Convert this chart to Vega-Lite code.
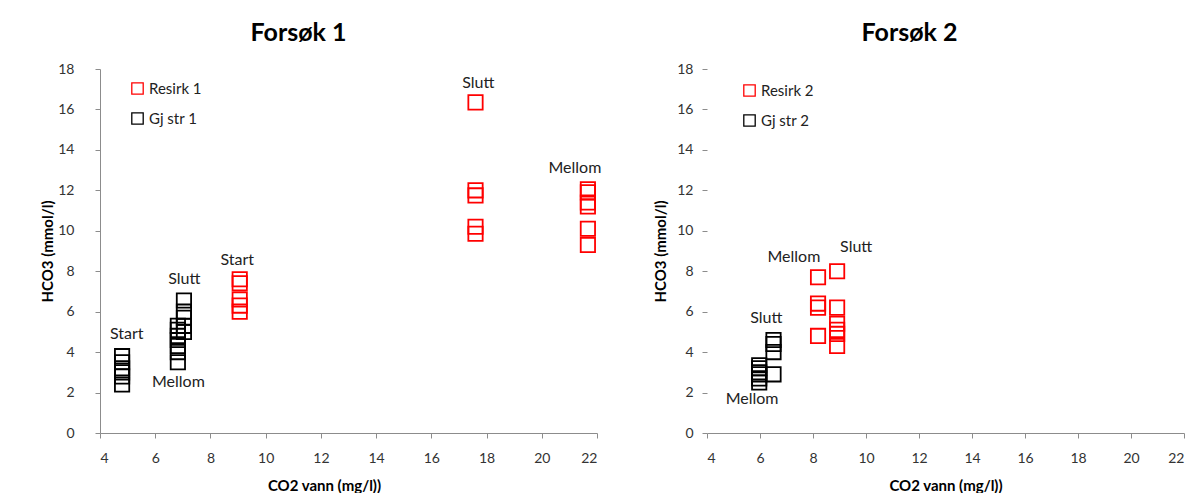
{
  "$schema": "https://vega.github.io/schema/vega-lite/v6.json",
  "background": "white",
  "padding": {"left": 40, "top": 21, "right": 5, "bottom": 0},
  "spacing": 51,
  "config": {
    "font": "Lato",
    "view": {"stroke": null},
    "axis": {"grid": false, "labelFont": "Lato", "labelFontSize": 14, "labelColor": "#333333", "titleFont": "Lato", "titleFontSize": 15, "titleFontWeight": "bold", "titleColor": "#000000", "domainColor": "#8c8c8c", "tickColor": "#8c8c8c", "tickSize": 5},
    "legend": {"orient": "none", "title": null, "labelFont": "Lato", "labelFontSize": 15, "labelColor": "#222222", "symbolType": "square", "symbolSize": 130, "symbolStrokeWidth": 1.3, "rowPadding": 13, "labelOffset": 4},
    "title": {"font": "Lato", "fontSize": 25, "fontWeight": "bold", "color": "#000000", "anchor": "middle"}
  },
  "resolve": {"scale": {"color": "independent"}, "legend": {"color": "independent"}},
  "datasets": {
    "points": [
      {"panel": 1, "series": "Gj str 1", "x": 4.8, "y": 3.8},
      {"panel": 1, "series": "Gj str 1", "x": 4.8, "y": 3.5},
      {"panel": 1, "series": "Gj str 1", "x": 4.8, "y": 3.2},
      {"panel": 1, "series": "Gj str 1", "x": 4.8, "y": 3.0},
      {"panel": 1, "series": "Gj str 1", "x": 4.8, "y": 2.8},
      {"panel": 1, "series": "Gj str 1", "x": 4.8, "y": 2.4},
      {"panel": 1, "series": "Gj str 1", "x": 6.82, "y": 5.3},
      {"panel": 1, "series": "Gj str 1", "x": 6.82, "y": 5.1},
      {"panel": 1, "series": "Gj str 1", "x": 6.82, "y": 4.8},
      {"panel": 1, "series": "Gj str 1", "x": 6.82, "y": 4.6},
      {"panel": 1, "series": "Gj str 1", "x": 6.82, "y": 4.3},
      {"panel": 1, "series": "Gj str 1", "x": 6.82, "y": 4.0},
      {"panel": 1, "series": "Gj str 1", "x": 6.82, "y": 3.5},
      {"panel": 1, "series": "Gj str 1", "x": 7.04, "y": 6.55},
      {"panel": 1, "series": "Gj str 1", "x": 7.04, "y": 6.0},
      {"panel": 1, "series": "Gj str 1", "x": 7.04, "y": 5.7},
      {"panel": 1, "series": "Gj str 1", "x": 7.04, "y": 5.3},
      {"panel": 1, "series": "Gj str 1", "x": 7.04, "y": 5.0},
      {"panel": 1, "series": "Resirk 1", "x": 9.06, "y": 7.6},
      {"panel": 1, "series": "Resirk 1", "x": 9.06, "y": 7.4},
      {"panel": 1, "series": "Resirk 1", "x": 9.06, "y": 6.6},
      {"panel": 1, "series": "Resirk 1", "x": 9.06, "y": 6.3},
      {"panel": 1, "series": "Resirk 1", "x": 9.06, "y": 6.0},
      {"panel": 1, "series": "Resirk 1", "x": 17.6, "y": 16.35},
      {"panel": 1, "series": "Resirk 1", "x": 17.6, "y": 12.0},
      {"panel": 1, "series": "Resirk 1", "x": 17.6, "y": 11.75},
      {"panel": 1, "series": "Resirk 1", "x": 17.6, "y": 10.2},
      {"panel": 1, "series": "Resirk 1", "x": 17.6, "y": 9.85},
      {"panel": 1, "series": "Resirk 1", "x": 21.67, "y": 12.05},
      {"panel": 1, "series": "Resirk 1", "x": 21.67, "y": 11.9},
      {"panel": 1, "series": "Resirk 1", "x": 21.67, "y": 11.4},
      {"panel": 1, "series": "Resirk 1", "x": 21.67, "y": 11.2},
      {"panel": 1, "series": "Resirk 1", "x": 21.67, "y": 10.1},
      {"panel": 1, "series": "Resirk 1", "x": 21.67, "y": 9.3},
      {"panel": 2, "series": "Gj str 2", "x": 5.97, "y": 3.35},
      {"panel": 2, "series": "Gj str 2", "x": 5.97, "y": 3.2},
      {"panel": 2, "series": "Gj str 2", "x": 5.97, "y": 3.0},
      {"panel": 2, "series": "Gj str 2", "x": 5.97, "y": 2.9},
      {"panel": 2, "series": "Gj str 2", "x": 5.97, "y": 2.7},
      {"panel": 2, "series": "Gj str 2", "x": 5.97, "y": 2.5},
      {"panel": 2, "series": "Gj str 2", "x": 6.51, "y": 4.6},
      {"panel": 2, "series": "Gj str 2", "x": 6.51, "y": 4.4},
      {"panel": 2, "series": "Gj str 2", "x": 6.51, "y": 4.0},
      {"panel": 2, "series": "Gj str 2", "x": 6.51, "y": 2.9},
      {"panel": 2, "series": "Resirk 2", "x": 8.19, "y": 7.7},
      {"panel": 2, "series": "Resirk 2", "x": 8.19, "y": 6.4},
      {"panel": 2, "series": "Resirk 2", "x": 8.19, "y": 6.2},
      {"panel": 2, "series": "Resirk 2", "x": 8.19, "y": 4.8},
      {"panel": 2, "series": "Resirk 2", "x": 8.91, "y": 8.0},
      {"panel": 2, "series": "Resirk 2", "x": 8.91, "y": 6.2},
      {"panel": 2, "series": "Resirk 2", "x": 8.91, "y": 5.4},
      {"panel": 2, "series": "Resirk 2", "x": 8.91, "y": 5.1},
      {"panel": 2, "series": "Resirk 2", "x": 8.91, "y": 4.9},
      {"panel": 2, "series": "Resirk 2", "x": 8.91, "y": 4.3}
    ],
    "labels": [
      {"panel": 1, "text": "Start", "x": 4.97, "y": 4.9},
      {"panel": 1, "text": "Mellom", "x": 6.84, "y": 2.5},
      {"panel": 1, "text": "Slutt", "x": 7.05, "y": 7.6},
      {"panel": 1, "text": "Start", "x": 8.97, "y": 8.55},
      {"panel": 1, "text": "Slutt", "x": 17.7, "y": 17.3},
      {"panel": 1, "text": "Mellom", "x": 21.2, "y": 13.1},
      {"panel": 2, "text": "Mellom", "x": 5.7, "y": 1.69},
      {"panel": 2, "text": "Slutt", "x": 6.24, "y": 5.7},
      {"panel": 2, "text": "Mellom", "x": 7.28, "y": 8.68},
      {"panel": 2, "text": "Slutt", "x": 9.63, "y": 9.2}
    ]
  },
  "hconcat": [
    {
      "width": 497,
      "height": 364,
      "title": {"text": "Forsøk 1", "dx": -50, "offset": 16},
      "layer": [
        {
          "data": {"name": "points"},
          "transform": [{"filter": "datum.panel == 1"}],
          "mark": {"type": "point", "shape": "square", "filled": false, "size": 205, "strokeWidth": 1.8, "opacity": 1},
          "encoding": {
            "x": {"field": "x", "type": "quantitative", "scale": {"domain": [4, 22], "nice": false, "zero": false}, "axis": {"title": "CO2 vann (mg/l))", "values": [4, 6, 8, 10, 12, 14, 16, 18, 20, 22], "labelPadding": 13, "titlePadding": 13, "titleX": 224}},
            "y": {"field": "y", "type": "quantitative", "scale": {"domain": [0, 18], "nice": false}, "axis": {"title": "HCO3 (mmol/l)", "values": [0, 2, 4, 6, 8, 10, 12, 14, 16, 18], "labelPadding": 21, "titlePadding": 2}},
            "color": {"field": "series", "type": "nominal", "scale": {"domain": ["Resirk 1", "Gj str 1"], "range": ["#ff0000", "#000000"]}, "legend": {"legendX": 30, "legendY": 12}}
          }
        },
        {
          "data": {"name": "labels"},
          "transform": [{"filter": "datum.panel == 1"}],
          "mark": {"type": "text", "font": "Lato", "fontSize": 16, "color": "#222222", "baseline": "middle", "align": "center"},
          "encoding": {
            "x": {"field": "x", "type": "quantitative"},
            "y": {"field": "y", "type": "quantitative"},
            "text": {"field": "text"}
          }
        }
      ]
    },
    {
      "width": 477,
      "height": 364,
      "title": {"text": "Forsøk 2", "dx": -36, "offset": 16},
      "layer": [
        {
          "data": {"name": "points"},
          "transform": [{"filter": "datum.panel == 2"}],
          "mark": {"type": "point", "shape": "square", "filled": false, "size": 205, "strokeWidth": 1.8, "opacity": 1},
          "encoding": {
            "x": {"field": "x", "type": "quantitative", "scale": {"domain": [4, 22], "nice": false, "zero": false}, "axis": {"title": "CO2 vann (mg/l))", "values": [4, 6, 8, 10, 12, 14, 16, 18, 20, 22], "labelPadding": 13, "titlePadding": 13}},
            "y": {"field": "y", "type": "quantitative", "scale": {"domain": [0, 18], "nice": false}, "axis": {"title": "HCO3 (mmol/l)", "values": [0, 2, 4, 6, 8, 10, 12, 14, 16, 18], "domain": false, "labelPadding": 9, "titlePadding": 8}},
            "color": {"field": "series", "type": "nominal", "scale": {"domain": ["Resirk 2", "Gj str 2"], "range": ["#ff0000", "#000000"]}, "legend": {"legendX": 35, "legendY": 14}}
          }
        },
        {
          "data": {"name": "labels"},
          "transform": [{"filter": "datum.panel == 2"}],
          "mark": {"type": "text", "font": "Lato", "fontSize": 16, "color": "#222222", "baseline": "middle", "align": "center"},
          "encoding": {
            "x": {"field": "x", "type": "quantitative"},
            "y": {"field": "y", "type": "quantitative"},
            "text": {"field": "text"}
          }
        }
      ]
    }
  ]
}
